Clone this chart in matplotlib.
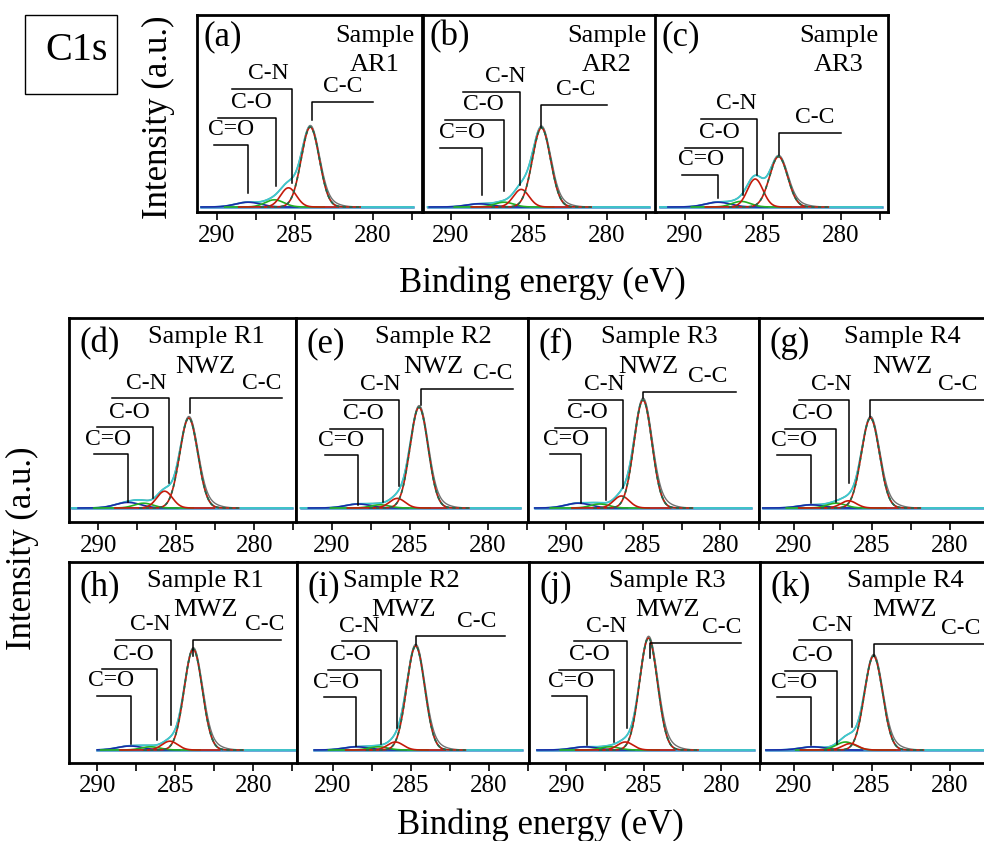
"""
C1s XPS deconvolution panels (a)-(k)
"""
import numpy as np
import matplotlib.pyplot as plt
from matplotlib.patches import Rectangle

plt.rcParams['font.family'] = ['Liberation Serif', 'DejaVu Serif']

# ---- data ---------------------------------------------------------------
tags = ['(a)', '(b)', '(c)', '(d)', '(e)', '(f)', '(g)', '(h)', '(i)', '(j)', '(k)']
sample_top = ['Sample', 'Sample', 'Sample', 'Sample R1', 'Sample R2', 'Sample R3', 'Sample R4',
              'Sample R1', 'Sample R2', 'Sample R3', 'Sample R4']
sample_bot = ['AR1', 'AR2', 'AR3', 'NWZ', 'NWZ', 'NWZ', 'NWZ', 'MWZ', 'MWZ', 'MWZ', 'MWZ']
peak_names = ['C=O', 'C-O', 'C-N', 'C-C']

# peak centres (eV) and heights (a.u.) of the fitted components
c_eq_o_pos = [288.0, 288.2, 287.9, 288.1, 288.3, 289.2, 288.9, 287.9, 288.5, 288.8, 288.8]
c_eq_o_h = [0.06, 0.04, 0.06, 0.07, 0.05, 0.06, 0.04, 0.05, 0.04, 0.04, 0.04]
c_o_pos = [286.3, 286.6, 286.4, 287.1, 286.9, 287.8, 287.3, 286.6, 287.1, 287.2, 286.7]
c_o_h = [0.09, 0.06, 0.07, 0.06, 0.04, 0.05, 0.06, 0.04, 0.04, 0.04, 0.10]
c_n_pos = [285.4, 285.5, 285.5, 285.75, 285.8, 286.4, 286.5, 285.35, 286.0, 286.2, 286.4]
c_n_h = [0.24, 0.22, 0.35, 0.21, 0.12, 0.15, 0.09, 0.11, 0.10, 0.10, 0.08]
c_c_pos = [284.0, 284.2, 284.0, 284.2, 284.4, 285.0, 285.1, 283.85, 284.7, 284.7, 284.9]
c_c_h = [1.0, 0.99, 0.63, 1.125, 1.26, 1.35, 1.125, 1.26, 1.30, 1.40, 1.175]
raw_tail_h = [0.05, 0.05, 0.04, 0.06, 0.06, 0.07, 0.06, 0.06, 0.06, 0.07, 0.06]
sigmas = [0.8, 0.6, 0.5, 0.58]

# start / end of the recorded spectra (eV)
scan_start = [291.0, 291.5, 291.6, 291.7, 292.0, 292.0, 292.0, 290.0, 291.2, 291.9, 291.8]
scan_end = [277.4, 277.3, 277.4, 277.6, 277.9, 278.0, 277.6, 277.3, 277.9, 277.9, 277.6]

major_ticks = [290, 285, 280]
minor_ticks = [287.5, 282.5, 277.5]

# ---- annotation brackets (x in eV, y in a.u.), order C=O, C-O, C-N, C-C ----
bar_y = [[0.78, 1.11, 1.475, 1.31], [0.74, 1.09, 1.44, 1.28], [0.40, 0.74, 1.10, 0.925],
         [0.67, 1.01, 1.37, 1.37], [0.66, 0.99, 1.35, 1.49], [0.67, 1.00, 1.35, 1.45],
         [0.66, 0.99, 1.35, 1.35], [0.68, 1.01, 1.375, 1.375], [0.66, 1.00, 1.36, 1.42],
         [0.67, 1.00, 1.36, 1.34], [0.66, 0.99, 1.37, 1.33]]
bar_far = [[290.2, 289.9, 289.0, 280.0], [290.7, 290.4, 289.2, 280.0], [290.2, 290.0, 289.0, 280.0],
           [290.3, 290.1, 289.1, 278.2], [290.4, 290.1, 289.2, 278.35], [291.0, 290.7, 289.8, 279.0],
           [291.1, 290.6, 289.7, 277.0], [290.0, 289.7, 288.8, 278.2], [290.6, 290.3, 289.4, 279.0],
           [290.9, 290.5, 289.5, 278.7], [291.1, 290.6, 289.7, 277.0]]
bar_vert = [[288.0, 286.2, 285.2, 283.9], [288.0, 286.6, 285.6, 284.2], [287.9, 286.3, 285.4, 283.98],
            [288.1, 286.5, 285.5, 284.1], [288.3, 286.7, 285.7, 284.3], [289.0, 287.4, 286.3, 285.0],
            [288.9, 287.3, 286.5, 285.1], [287.85, 286.2, 285.25, 283.85], [288.5, 286.9, 285.9, 284.7],
            [288.7, 286.9, 286.1, 284.6], [288.9, 287.25, 286.3, 284.9]]
bar_bottom = [[0.175, 0.26, 0.30, 1.09], [0.15, 0.20, 0.28, 1.0], [0.11, 0.15, 0.40, 0.65],
              [0.07, 0.125, 0.31, 1.19], [0.04, 0.07, 0.27, 1.29], [0.06, 0.10, 0.25, 1.37],
              [0.06, 0.08, 0.31, 1.14], [0.08, 0.125, 0.31, 1.17], [0.05, 0.08, 0.27, 1.31],
              [0.06, 0.10, 0.27, 1.15], [0.06, 0.08, 0.29, 1.175]]
label_x = [[289.1, 287.8, 286.7, 281.9], [289.3, 287.9, 286.5, 282.0], [289.0, 287.8, 286.7, 281.7],
           [289.4, 288.0, 286.9, 279.5], [289.4, 288.0, 286.9, 279.7], [290.0, 288.6, 287.5, 280.8],
           [290.0, 288.8, 287.6, 279.5], [289.1, 287.7, 286.6, 279.3], [289.8, 288.9, 288.3, 280.8],
           [289.7, 288.5, 287.4, 280.0], [290.0, 288.8, 287.55, 279.3]]
# horizontal place (axes fraction) of the two sample-name lines
name_x1 = [0.79, 0.79, 0.79, 0.607, 0.59, 0.57, 0.62, 0.60, 0.45, 0.60, 0.63]
name_x2 = [0.79, 0.79, 0.79, 0.600, 0.59, 0.52, 0.62, 0.60, 0.46, 0.60, 0.63]

# ---- figure layout in pixels --------------------------------------------
W, H = 984, 841
PX_PER_EV = 15.6
UNIT = 80.0  # pixels per intensity unit
# left, right, x of the 290 tick, top, bottom, baseline
boxes = [(197, 422, 216.7, 15, 212, 207), (423, 656, 451, 15, 212, 207), (655, 888, 685, 15, 212, 207),
         (69, 296, 98.3, 318, 522, 508), (296, 528, 331.7, 318, 522, 508),
         (528, 759, 566, 318, 522, 508), (759, 990, 794, 318, 522, 508),
         (69, 297, 97.3, 562, 763, 750), (297, 529, 333, 562, 763, 750),
         (529, 760, 566.7, 562, 763, 750), (760, 990, 794, 562, 763, 750)]

fig = plt.figure(figsize=(W / 100, H / 100), dpi=100)


def gauss(x, c, h, s):
    return h * np.exp(-(x - c) ** 2 / (2 * s ** 2))


for i, (l, r, t290, top, bot, base) in enumerate(boxes):
    ax = fig.add_axes([l / W, 1 - bot / H, (r - l) / W, (bot - top) / H])
    x_left = 290 + (t290 - l) / PX_PER_EV
    x_right = x_left - (r - l) / PX_PER_EV
    ax.set_xlim(x_left, x_right)
    ax.set_ylim(-(bot - base) / UNIT, (base - top) / UNIT)

    x = np.linspace(scan_start[i], scan_end[i], 700)
    comps = [gauss(x, c_eq_o_pos[i], c_eq_o_h[i], sigmas[0]),
             gauss(x, c_o_pos[i], c_o_h[i], sigmas[1]),
             gauss(x, c_n_pos[i], c_n_h[i], sigmas[2]),
             gauss(x, c_c_pos[i], c_c_h[i], sigmas[3])]
    env = sum(comps)
    raw = env + gauss(x, c_c_pos[i] - 1.1, raw_tail_h[i], 0.7)

    ax.plot(x, np.zeros_like(x), color='#3f8fce', lw=1.8, zorder=2)
    ax.plot(x, raw, color='#707070', lw=1.0, zorder=3)
    ax.plot(x, env, color='#3cc9cf', lw=1.3, zorder=4)
    near = [np.abs(x - p[i]) < 3.2 for p in (c_eq_o_pos, c_o_pos, c_n_pos, c_c_pos)]
    ax.plot(x[near[0]], comps[0][near[0]], color='#1a2aa8', lw=1.2, zorder=5)
    ax.plot(x[near[1]], comps[1][near[1]], color='#22b022', lw=1.2, zorder=5)
    ax.plot(x[near[2]], comps[2][near[2]], color='#c41a0a', lw=1.2, zorder=5)
    ax.plot(x[near[3]], comps[3][near[3]], color='#c41a0a', lw=1.2, zorder=6)
    ax.plot(x[near[3]], comps[3][near[3]], color='#1d6b4c', lw=1.2, dashes=(2, 2), zorder=7)

    # bracket annotations
    for k in range(4):
        ax.plot([bar_far[i][k], bar_vert[i][k], bar_vert[i][k]],
                [bar_y[i][k], bar_y[i][k], bar_bottom[i][k]], color='black', lw=1.1, zorder=8)
        ax.text(label_x[i][k], bar_y[i][k] + 0.19, peak_names[k], fontsize=17,
                ha='center', va='center', zorder=9)

    ax.text(0.03 if i < 3 else 0.045, 0.89 if i < 3 else 0.875, tags[i], transform=ax.transAxes,
            fontsize=25, ha='left', va='center')
    ax.text(name_x1[i], 0.895 if i < 3 else 0.905, sample_top[i], transform=ax.transAxes,
            fontsize=19, ha='center', va='center')
    ax.text(name_x2[i], 0.745 if i < 3 else 0.76, sample_bot[i], transform=ax.transAxes,
            fontsize=19, ha='center', va='center')

    ax.set_xticks(major_ticks)
    ax.set_xticks(minor_ticks, minor=True)
    ax.set_yticks([])
    ax.tick_params(axis='x', which='both', direction='out', length=6, width=1.2,
                   labelsize=18, pad=3)
    for sp in ax.spines.values():
        sp.set_linewidth(2)

# axis labels
fig.text(542 / W, 1 - 283 / H, 'Binding energy (eV)', fontsize=25, ha='center', va='center')
fig.text(540 / W, 1 - 825 / H, 'Binding energy (eV)', fontsize=25, ha='center', va='center')
fig.text(158 / W, 1 - 117 / H, 'Intensity (a.u.)', fontsize=25, rotation=90, ha='center', va='center')
fig.text(22 / W, 1 - 548 / H, 'Intensity (a.u.)', fontsize=25, rotation=90, ha='center', va='center')

# C1s box
fig.patches.append(Rectangle((25 / W, 1 - 94 / H), 92 / W, 79 / H, transform=fig.transFigure,
                             fill=False, edgecolor='black', lw=1.0))
fig.text(77 / W, 1 - 51 / H, 'C1s', fontsize=29, ha='center', va='center')

plt.savefig('out.png', dpi=100)
